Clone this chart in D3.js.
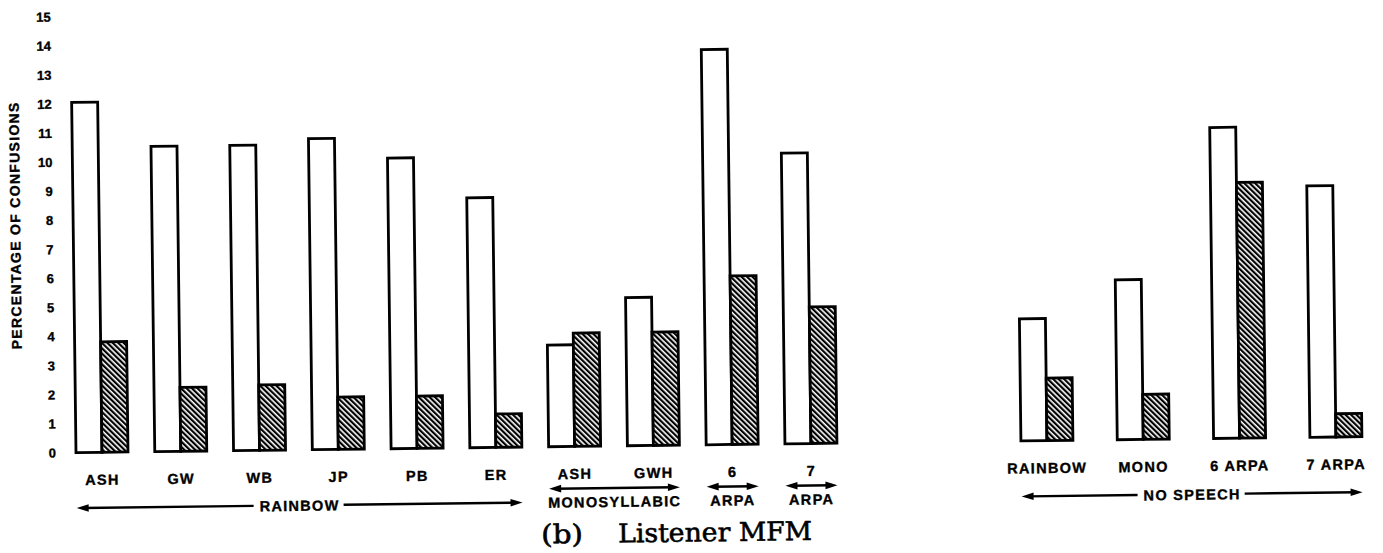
<!DOCTYPE html>
<html>
<head>
<meta charset="utf-8">
<script src="https://cdn.jsdelivr.net/npm/d3@7"></script>
<style>
  html, body { margin: 0; padding: 0; background: #fff; }
  svg { display: block; }
  .lbl { font-family: "Liberation Sans", Arial, sans-serif; font-weight: bold; font-size: 14.5px; letter-spacing: 1.3px; fill: #000; stroke: #000; stroke-width: 0.35px; }
  .title { font-family: "DejaVu Serif", "Liberation Serif", serif; font-size: 26px; fill: #000; stroke: #000; stroke-width: 0.6px; }
</style>
</head>
<body>
<div id="chart"></div>
<script>
// Percentage of confusions, listener MFM
const yTicks = [0, 1, 2, 3, 4, 5, 6, 7, 8, 9, 10, 11, 12, 13, 14, 15];

// speech conditions (left panel)
const speechTickLabels = ["ASH", "GW", "WB", "JP", "PB", "ER", "ASH", "GWH", "6", "7"];
const speechGroupLabels = ["RAINBOW", "MONOSYLLABIC", "ARPA", "ARPA"];
const speechGroupIndex = [0, 0, 0, 0, 0, 0, 1, 1, 2, 3];
const speechOpen = [12.05, 10.5, 10.5, 10.7, 10.0, 8.6, 3.5, 5.1, 13.6, 10.0];
const speechHatched = [3.8, 2.2, 2.25, 1.8, 1.8, 1.15, 3.9, 3.9, 5.8, 4.7];

// no speech (right panel)
const noSpeechTickLabels = ["RAINBOW", "MONO", "6 ARPA", "7 ARPA"];
const noSpeechGroupLabels = ["NO SPEECH"];
const noSpeechGroupIndex = [0, 0, 0, 0];
const noSpeechOpen = [4.2, 5.5, 10.7, 8.65];
const noSpeechHatched = [2.15, 1.55, 8.8, 0.8];

const width = 1383, height = 553;
const barW = 26;

const svg = d3.select("#chart").append("svg")
    .attr("width", width)
    .attr("height", height);

// diagonal hatching for the second bar of each pair
const pat = svg.append("defs").append("pattern")
    .attr("id", "hatch")
    .attr("patternUnits", "userSpaceOnUse")
    .attr("width", 3.8).attr("height", 3.8)
    .attr("patternTransform", "rotate(-45)");
pat.append("rect").attr("width", 3.8).attr("height", 3.8).attr("fill", "#fff");
pat.append("rect").attr("width", 2.2).attr("height", 3.8).attr("fill", "#000");

// the scanned page sits slightly tilted
const g = svg.append("g").attr("transform", "rotate(-0.71,45,453)");

const y = d3.scaleLinear().domain([0, 15]).range([453, 17]);
const xSpeech = d3.scalePoint().domain(d3.range(speechOpen.length)).range([102, 811]);
const xNone = d3.scalePoint().domain(d3.range(noSpeechOpen.length)).range([1047, 1336]);

// Y axis (labels only)
g.append("g")
    .attr("transform", "translate(57,0)")
    .call(d3.axisLeft(y).tickValues(yTicks).tickSize(0).tickPadding(1).tickFormat(d3.format("d")))
    .call(a => a.select(".domain").remove())
    .attr("font-family", "'Liberation Sans', Arial, sans-serif")
    .attr("font-weight", "bold")
    .attr("font-size", 13)
    .selectAll("text")
    .attr("stroke", "#000")
    .attr("stroke-width", 0.35);

g.append("text")
    .attr("class", "lbl")
    .attr("transform", "translate(18,225) rotate(-90)")
    .attr("text-anchor", "middle")
    .attr("dy", "0.36em")
    .style("font-size", "14px")
    .text("PERCENTAGE OF CONFUSIONS");

function drawBars(x, open, hatched, ticks) {
    g.append("g").selectAll("rect")
        .data(open)
        .join("rect")
        .attr("x", (d, i) => x(i) - barW)
        .attr("y", d => y(d))
        .attr("width", barW)
        .attr("height", d => y(0) - y(d))
        .attr("fill", "#fff")
        .attr("stroke", "#000")
        .attr("stroke-width", 2.8);

    g.append("g").selectAll("rect")
        .data(hatched)
        .join("rect")
        .attr("x", (d, i) => x(i))
        .attr("y", d => y(d))
        .attr("width", barW)
        .attr("height", d => y(0) - y(d))
        .attr("fill", "url(#hatch)")
        .attr("stroke", "#000")
        .attr("stroke-width", 2.8);

    g.append("g").selectAll("text")
        .data(ticks)
        .join("text")
        .attr("class", "lbl")
        .attr("x", (d, i) => x(i))
        .attr("y", 485.5)
        .attr("text-anchor", "middle")
        .text(d => d);
}

function arrow(x1, x2, yy, headL, headR) {
    g.append("line")
        .attr("x1", x1 + (headL ? 6 : 0)).attr("x2", x2 - (headR ? 6 : 0))
        .attr("y1", yy).attr("y2", yy)
        .attr("stroke", "#000").attr("stroke-width", 2.4);
    if (headL) g.append("path").attr("d", `M${x1},${yy}l12,-3.8v7.6z`).attr("fill", "#000");
    if (headR) g.append("path").attr("d", `M${x2},${yy}l-12,-3.8v7.6z`).attr("fill", "#000");
}

function drawGroups(x, groupLabels, groupIndex) {
    groupLabels.forEach((name, k) => {
        const members = groupIndex.map((gi, i) => gi === k ? i : -1).filter(i => i >= 0);
        const lo = x(d3.min(members)) - barW;
        const hi = x(d3.max(members)) + barW;
        const cx = (lo + hi) / 2;
        const t = g.append("text")
            .attr("class", "lbl")
            .attr("x", cx)
            .attr("y", 514)
            .attr("text-anchor", "middle")
            .text(name);
        if (members.length > 2) {
            const w = t.node().getComputedTextLength();
            arrow(lo, cx - w / 2 - 6, 508.5, true, false);
            arrow(cx + w / 2 + 4, hi, 508.5, false, true);
        } else {
            arrow(lo, hi, 495, true, true);
        }
    });
}

drawBars(xSpeech, speechOpen, speechHatched, speechTickLabels);
drawBars(xNone, noSpeechOpen, noSpeechHatched, noSpeechTickLabels);
drawGroups(xSpeech, speechGroupLabels, speechGroupIndex);
drawGroups(xNone, noSpeechGroupLabels, noSpeechGroupIndex);

// caption
g.append("text").attr("class", "title").attr("x", 540).attr("y", 549.5)
    .attr("textLength", 42).attr("lengthAdjust", "spacingAndGlyphs")
    .text("(b)");
g.append("text").attr("class", "title").attr("x", 617).attr("y", 549.5)
    .attr("textLength", 194).attr("lengthAdjust", "spacingAndGlyphs")
    .text("Listener MFM");
</script>
</body>
</html>
